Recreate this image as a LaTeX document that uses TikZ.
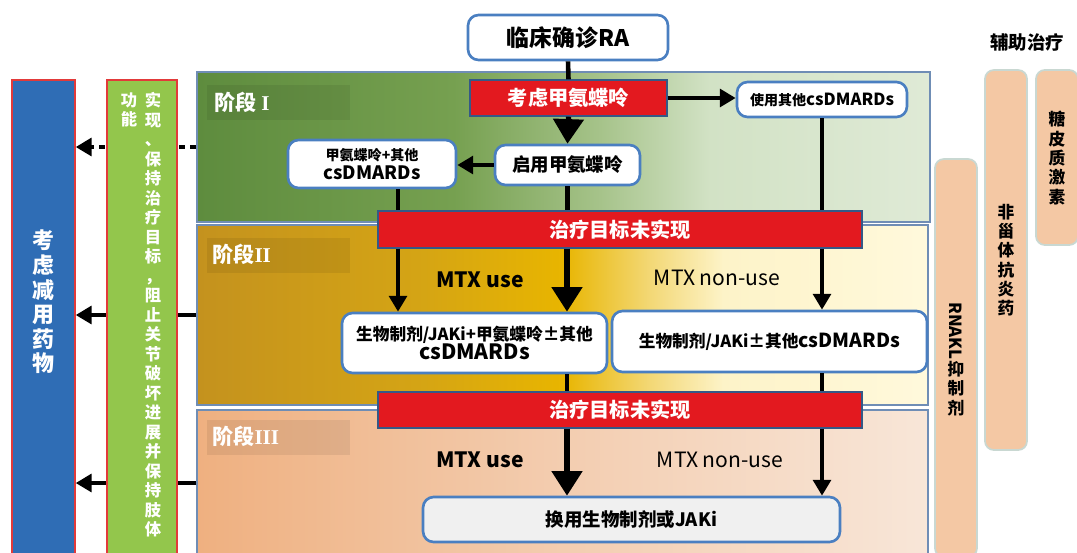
\documentclass[tikz,border=0pt]{standalone}
\usepackage{fontspec}
\setmainfont{Noto Sans CJK SC}
\newfontfamily\romanf{Liberation Serif}
\usetikzlibrary{arrows.meta,calc}
\definecolor{bluebox}{HTML}{2F6DB5}
\definecolor{greenbox}{HTML}{93C64C}
\definecolor{redbar}{HTML}{E3191F}
\definecolor{edgeblue}{HTML}{4A7FC1}
\definecolor{paneledge}{HTML}{6F8DB5}
\definecolor{peach}{HTML}{F4C8A4}
\definecolor{peachedge}{HTML}{C9D8D2}
\definecolor{boxred}{HTML}{E23A3A}
\definecolor{aA}{HTML}{5E8C3E}\definecolor{aB}{HTML}{76A050}\definecolor{aC}{HTML}{A6C38A}\definecolor{aD}{HTML}{D2E2C5}\definecolor{aE}{HTML}{DFEAD6}
\definecolor{bA}{HTML}{C4921E}\definecolor{bB}{HTML}{D4A415}\definecolor{bC}{HTML}{E8B500}\definecolor{bD}{HTML}{F3D876}\definecolor{bE}{HTML}{FDF3C8}\definecolor{bF}{HTML}{FFF9DC}
\definecolor{cA}{HTML}{EFB080}\definecolor{cB}{HTML}{F3CDB0}\definecolor{cC}{HTML}{F8E6D8}
\pgfdeclarehorizontalshading{stageIshade}{100bp}{color(0bp)=(aA); color(25bp)=(aA); color(42.5bp)=(aB); color(52.5bp)=(aC); color(60bp)=(aD); color(75bp)=(aE); color(100bp)=(aE)}
\pgfdeclarehorizontalshading{stageIIshade}{100bp}{color(0bp)=(bA); color(25bp)=(bA); color(40bp)=(bB); color(50bp)=(bC); color(56bp)=(bD); color(61bp)=(bE); color(75bp)=(bF); color(100bp)=(bF)}
\pgfdeclarehorizontalshading{stageIIIshade}{100bp}{color(0bp)=(cA); color(25bp)=(cA); color(50bp)=(cB); color(75bp)=(cC); color(100bp)=(cC)}
\begin{document}
\begin{tikzpicture}[x=0.02cm,y=-0.02cm,
  panel/.style={draw=paneledge, line width=0.9pt, inner sep=0pt},
  tag/.style={fill=black, fill opacity=0.07, draw=none, minimum width=2.86cm, minimum height=0.7cm, inner sep=0pt},
  tagtxt/.style={text=white, font=\fontsize{12}{14}\selectfont\bfseries, anchor=west, inner sep=0pt},
  wbox/.style={draw=edgeblue, line width=1.5pt, fill=white, rounded corners=6pt, align=center, inner sep=0pt},
  rbox/.style={draw=edgeblue!70!black, line width=0.8pt, fill=redbar, text=white, font=\fontsize{11.5}{13}\selectfont\bfseries, inner sep=0pt},
  sidebox/.style={draw=peachedge, line width=1pt, fill=peach, rounded corners=5pt, inner sep=0pt},
  sidetxt/.style={font=\fontsize{9.5}{11}\selectfont\bfseries, align=center, inner sep=0pt},
  thinarr/.style={line width=2.3pt, -{Triangle[width=10pt,length=9pt]}},
  bigarr/.style={line width=3pt, -{Triangle[width=17pt,length=14pt]}},
  plain/.style={line width=2.6pt},
  mtx/.style={font=\fontsize{12}{14}\selectfont\bfseries, inner sep=0pt},
  nonmtx/.style={font=\fontsize{12}{14}\selectfont, inner sep=0pt}]
\useasboundingbox (0,0) rectangle (1077,552);

% column coordinates
\coordinate (colL) at (398,0);
\coordinate (colM) at (567,0);
\coordinate (colR) at (822,0);

% stage panels
\node[panel, shading=stageIshade, minimum width=14.66cm, minimum height=3cm] (s1) at (563.5,147) {};
\node[panel, shading=stageIIshade, minimum width=14.62cm, minimum height=3.6cm] (s2) at (562.5,315) {};
\node[panel, shading=stageIIIshade, minimum width=14.62cm, minimum height=2.92cm] (s3) at (562.5,483) {};

\node[tag] (t1) at (278.5,102.5) {};
\node[tag] (t2) at (278.5,255) {};
\node[tag] (t3) at (278.5,437) {};
\node[tagtxt] (t1l) at (214,102) {阶段 {\romanf\bfseries I}};
\node[tagtxt] (t2l) at (212,254) {阶段{\romanf\bfseries II}};
\node[tagtxt] (t3l) at (212,436) {阶段{\romanf\bfseries III}};

% left side columns
\node[draw=boxred, line width=0.8pt, fill=bluebox, minimum width=1.26cm, minimum height=9.6cm, inner sep=0pt] (blue) at (43.5,320) {};
\node[text=white, font=\fontsize{12.5}{14}\selectfont\bfseries, align=center, inner sep=0pt] (bluetxt) at (43.5,302) {考\\虑\\减\\用\\药\\物};

% left arrows (behind green box)
\draw[line width=2.4pt, dash pattern=on 3.5pt off 3pt, -{Triangle[width=10pt,length=9pt]}] (s1.west) -- (blue.east |- s1.west);
\draw[thinarr] (s2.west) -- (blue.east |- s2.west);
\draw[thinarr] (s3.west) -- (blue.east |- s3.west);

\node[draw=boxred, line width=0.8pt, fill=greenbox, minimum width=1.4cm, minimum height=9.6cm, inner sep=0pt] (green) at (142,320) {};
\node[text=white, font=\fontsize{9.3}{11.1}\selectfont\bfseries, align=center, anchor=north, inner sep=0pt] (greentxt) at (153,92) {实\\现\\、\\保\\持\\治\\疗\\目\\标\\，\\阻\\止\\关\\节\\破\\坏\\进\\展\\并\\保\\持\\肢\\体};
\node[text=white, font=\fontsize{9.3}{11.1}\selectfont\bfseries, align=center, anchor=north, inner sep=0pt] (greentxt2) at (129,92) {功\\能};

% top flow
\node[wbox, minimum width=4cm, minimum height=0.9cm, font=\fontsize{13}{15}\selectfont\bfseries] (ra) at (568,37.5) {临床确诊RA};
\node[rbox, minimum width=3.94cm, minimum height=0.72cm] (consider) at (568.5,98) {考虑甲氨蝶呤};
\node[wbox, minimum width=3.4cm, minimum height=0.7cm] (other) at (822,99.5) {\fontsize{8}{10}\selectfont\bfseries 使用其他\fontsize{9.5}{10}\selectfont csDMARDs};
\node[wbox, minimum width=2.9cm, minimum height=0.8cm, font=\fontsize{10.5}{12}\selectfont\bfseries] (start) at (567.5,165) {启用甲氨蝶呤};
\node[wbox, minimum width=3.36cm, minimum height=0.96cm] (mtxplus) at (372,164) {{\fontsize{8}{10}\selectfont\bfseries 甲氨蝶呤+其他}\\[-1pt]{\fontsize{10.5}{12}\selectfont\bfseries csDMARDs}};

\draw[plain] (ra.south) -- (consider.north);
\draw[bigarr] (consider.south) -- (start.north);
\draw[thinarr] (consider.east) -- (other.west |- consider.east);
\draw[thinarr] (start.west) -- (mtxplus.east |- start.west);
\draw[plain] (start.south) -- (start.south |- 0,212);
\draw[plain] (mtxplus.south -| colL) -- (colL |- 0,212);
\draw[plain] (other.south -| colR) -- (colR |- 0,212);

% stage II
\node[rbox, minimum width=9.68cm, minimum height=0.74cm] (bar1) at (620,229.5) {治疗目标未实现};
\node[wbox, minimum width=5.3cm, minimum height=1.2cm] (bio1) at (474.5,343) {{\fontsize{9.5}{11}\selectfont\bfseries 生物制剂/JAKi+甲氨蝶呤±其他}\\[-1pt]{\fontsize{12}{13}\selectfont\bfseries csDMARDs}};
\node[wbox, minimum width=6.3cm, minimum height=1.22cm] (bio2) at (769.5,341.5) {\fontsize{9.5}{11}\selectfont\bfseries 生物制剂/JAKi±其他\fontsize{11}{12}\selectfont csDMARDs};
\node[mtx] (mtx1) at (480,280) {MTX use};
\node[nonmtx] (non1) at (717,278) {MTX non-use};

\draw[thinarr] (bar1.south -| colL) -- (bio1.north -| colL);
\draw[bigarr] (bar1.south -| colM) -- (bio1.north -| colM);
\draw[thinarr] (bar1.south -| colR) -- (bio2.north -| colR);
\draw[plain] (bio1.south -| colM) -- (colM |- 0,393);
\draw[plain] (bio2.south -| colR) -- (colR |- 0,393);

% stage III
\node[rbox, minimum width=9.68cm, minimum height=0.72cm] (bar2) at (620,410) {治疗目标未实现};
\node[wbox, fill=black!6, minimum width=8.34cm, minimum height=0.9cm, font=\fontsize{10.5}{12}\selectfont\bfseries] (swap) at (631.5,519.5) {换用生物制剂或JAKi};
\node[mtx] (mtx2) at (480,460) {MTX use};
\node[nonmtx] (non2) at (720,460) {MTX non-use};
\draw[bigarr] (bar2.south -| colM) -- (swap.north -| colM);
\draw[thinarr] (bar2.south -| colR) -- (swap.north -| colR);

% right side
\node[font=\fontsize{10.5}{12}\selectfont\bfseries, inner sep=0pt] (aux) at (1027,42) {辅助治疗};
\node[sidebox, minimum width=0.84cm, minimum height=7.96cm] (rnakl) at (956,358) {};
\node[sidebox, minimum width=0.84cm, minimum height=7.6cm] (nsaid) at (1006,260) {};
\node[sidebox, minimum width=0.84cm, minimum height=3.5cm] (gluco) at (1057,157.5) {};
\node[sidetxt, anchor=south] (rnakl1) at (956,360) {\rotatebox{-90}{RNAKL}};
\node[sidetxt, anchor=north] (rnakl2) at (956,361) {抑\\制\\剂};
\node[sidetxt] (nsaidt) at (1006,260) {非\\甾\\体\\抗\\炎\\药};
\node[sidetxt] (glucot) at (1057,158) {糖\\皮\\质\\激\\素};
\end{tikzpicture}
\end{document}
